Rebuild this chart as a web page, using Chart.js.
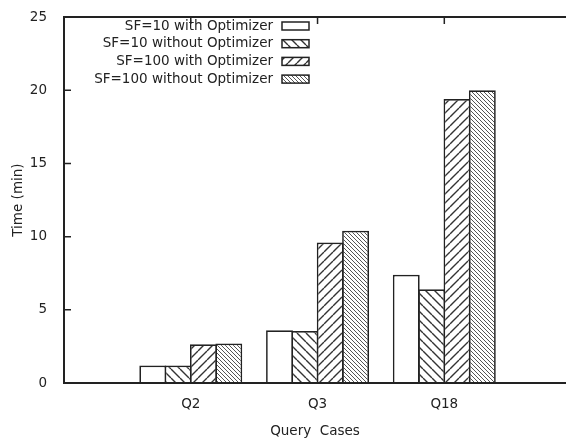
<!DOCTYPE html>
<html>
<head>
<meta charset="utf-8">
<script src="https://cdn.jsdelivr.net/npm/chart.js@4/dist/chart.umd.min.js"></script>
<style>
  html, body { margin: 0; padding: 0; background: #fff; }
  canvas { display: block; }
</style>
</head>
<body>
<canvas id="chart" width="566" height="443"></canvas>
<script>
// query cases on the x axis
const categories = ['Q2', 'Q3', 'Q18'];
const seriesLabels = [
  'SF=10 with Optimizer',
  'SF=10 without Optimizer',
  'SF=100 with Optimizer',
  'SF=100 without Optimizer'
];
// times in minutes
const sf10With = [1.2, 3.6, 7.4];
const sf10Without = [1.2, 3.55, 6.4];
const sf100With = [2.65, 9.6, 19.4];
const sf100Without = [2.7, 10.4, 20.0];
const yTicks = [0, 5, 10, 15, 20, 25];

const FONT = 'DejaVu Sans';
const INK = '#222';

// diagonal hatch tiles, like the gnuplot fill patterns
function hatch(dir, size, lw, color) {
  const c = document.createElement('canvas');
  c.width = size; c.height = size;
  const g = c.getContext('2d');
  g.fillStyle = '#fff';
  g.fillRect(0, 0, size, size);
  g.strokeStyle = color;
  g.lineWidth = lw;
  g.beginPath();
  for (let k = -1; k <= 1; k++) {
    if (dir === '\\') {
      g.moveTo(k * size, 0); g.lineTo(k * size + size, size);
    } else {
      g.moveTo(k * size, size); g.lineTo(k * size + size, 0);
    }
  }
  g.stroke();
  return g.createPattern(c, 'repeat');
}

const ctx = document.getElementById('chart').getContext('2d');
const fills = [
  '#fff',
  hatch('\\', 9, 1.4, '#333'),
  hatch('/', 9, 1.4, '#333'),
  hatch('\\', 4, 1, '#555')
];
const seriesValues = [sf10With, sf10Without, sf100With, sf100Without];

// x position 1, 2, 3 for the categories
const toPoints = vals => vals.map((v, i) => ({ x: i + 1, y: v }));

// frame, inward ticks and the legend
const framePlugin = {
  id: 'frame',
  afterDatasetsDraw(chart) {
    const { ctx, chartArea: a, scales: { x, y } } = chart;
    ctx.save();
    ctx.strokeStyle = INK;
    ctx.lineWidth = 2;
    ctx.beginPath();
    ctx.moveTo(a.right, a.top);
    ctx.lineTo(a.left, a.top);
    ctx.lineTo(a.left, a.bottom);
    ctx.lineTo(a.right, a.bottom);
    ctx.stroke();

    ctx.lineWidth = 1.5;
    ctx.beginPath();
    yTicks.slice(1, -1).forEach(v => {
      const py = y.getPixelForValue(v);
      ctx.moveTo(a.left, py); ctx.lineTo(a.left + 7, py);
    });
    categories.forEach((c, i) => {
      const px = x.getPixelForValue(i + 1);
      ctx.moveTo(px, a.top); ctx.lineTo(px, a.top + 7);
    });
    ctx.stroke();

    // legend: right-aligned text with sample box on its right
    ctx.font = '13.5px "' + FONT + '"';
    ctx.textAlign = 'right';
    ctx.textBaseline = 'middle';
    chart.data.datasets.forEach((ds, i) => {
      const cy = 26 + i * 17.7;
      ctx.fillStyle = INK;
      ctx.fillText(ds.label, 273, cy);
      ctx.fillStyle = ds.backgroundColor;
      ctx.fillRect(282, cy - 4, 27, 8);
      ctx.strokeStyle = INK;
      ctx.lineWidth = 1.5;
      ctx.strokeRect(282, cy - 4, 27, 8);
    });
    ctx.restore();
  }
};

new Chart(ctx, {
  type: 'bar',
  data: {
    datasets: seriesLabels.map((label, i) => ({
      label,
      data: toPoints(seriesValues[i]),
      backgroundColor: fills[i],
      borderColor: INK,
      borderWidth: 1.7,
      categoryPercentage: 0.8,
      barPercentage: 1.06
    }))
  },
  options: {
    responsive: false,
    animation: false,
    layout: { padding: { top: 10, right: 0, left: 0, bottom: 0 } },
    plugins: {
      legend: { display: false },
      tooltip: { enabled: false }
    },
    scales: {
      x: {
        type: 'linear',
        offset: false,
        min: 0,
        max: 3.96,
        grid: { display: false, offset: false },
        border: { display: false },
        afterBuildTicks: s => { s.ticks = categories.map((c, i) => ({ value: i + 1 })); },
        afterFit: s => { s.height = 60; },
        ticks: {
          color: INK,
          padding: 5,
          font: { family: FONT, size: 13.5 },
          callback: v => categories[v - 1]
        },
        title: {
          display: true,
          text: 'Query  Cases',
          color: INK,
          font: { family: FONT, size: 13.5 },
          padding: { top: 0, bottom: 3 }
        }
      },
      y: {
        min: 0,
        max: 25,
        grid: { display: false },
        border: { display: false },
        afterBuildTicks: s => { s.ticks = yTicks.map(v => ({ value: v })); },
        afterFit: s => { s.width = 64; },
        ticks: {
          color: INK,
          padding: 9,
          font: { family: FONT, size: 13.5 }
        },
        title: {
          display: true,
          text: 'Time (min)',
          color: INK,
          font: { family: FONT, size: 13.5 },
          padding: { top: 10, bottom: 0 }
        }
      }
    }
  },
  plugins: [framePlugin]
});
</script>
</body>
</html>
